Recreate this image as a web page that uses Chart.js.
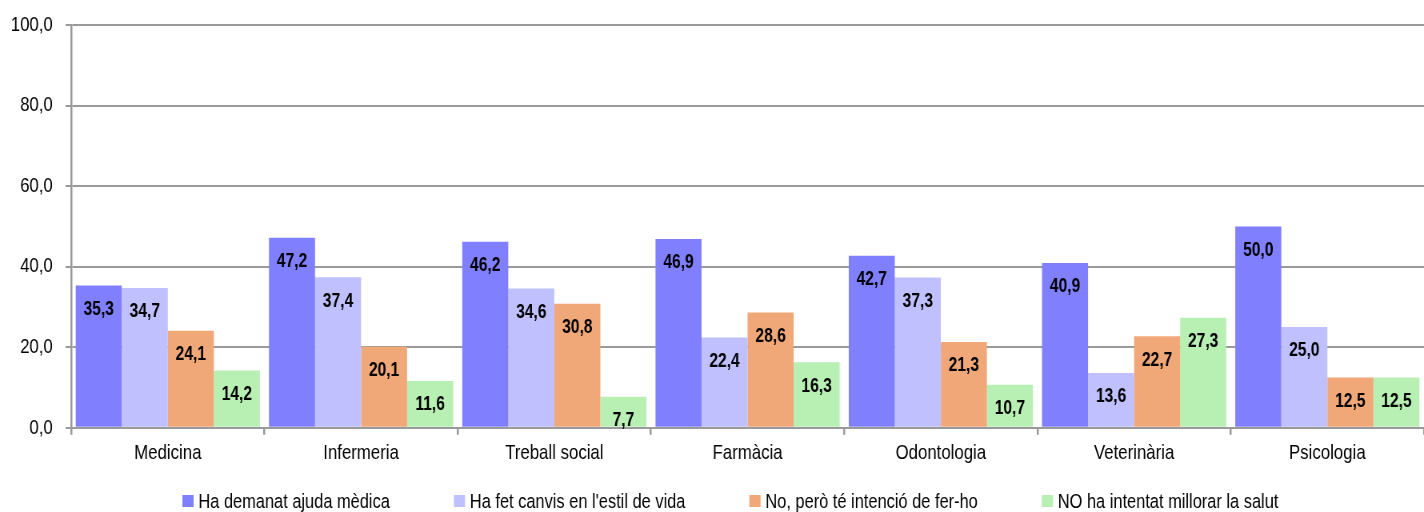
<!DOCTYPE html>
<html>
<head>
<meta charset="utf-8">
<script src="https://cdn.jsdelivr.net/npm/chart.js@4/dist/chart.umd.min.js"></script>
<style>
  html, body { margin: 0; padding: 0; background: #fff; overflow: hidden; }
  #wrap { width: 1424px; height: 512px; overflow: hidden; }
  /* the original chart has narrow text, so draw wider and squeeze horizontally */
  #chart { transform: scaleX(0.8); transform-origin: 0 0; }
</style>
</head>
<body>
<div id="wrap"><canvas id="chart" width="1780" height="512"></canvas></div>
<script>
//Categories and series
const categories = ['Medicina', 'Infermeria', 'Treball social', 'Farmàcia', 'Odontologia', 'Veterinària', 'Psicologia'];
const ajudaMedica = [35.3, 47.2, 46.2, 46.9, 42.7, 40.9, 50.0];
const canvisEstil = [34.7, 37.4, 34.6, 22.4, 37.3, 13.6, 25.0];
const intencio = [24.1, 20.1, 30.8, 28.6, 21.3, 22.7, 12.5];
const noIntentat = [14.2, 11.6, 7.7, 16.3, 10.7, 27.3, 12.5];
const seriesNames = ['Ha demanat ajuda mèdica', "Ha fet canvis en l'estil de vida", 'No, però té intenció de fer-ho', 'NO ha intentat millorar la salut'];

const colors = ['#8080ff', '#c0c0ff', '#f0a878', '#b8f0b4'];
const FONT = '"Liberation Sans", Arial, sans-serif';
const fmt = v => v.toFixed(1).replace('.', ',');

//Plugin to draw the values inside the bars
const valueLabels = {
    id: 'valueLabels',
    afterDatasetsDraw(chart) {
        const ctx = chart.ctx;
        ctx.save();
        ctx.fillStyle = '#000';
        ctx.font = 'bold 19.5px ' + FONT;
        ctx.textAlign = 'center';
        ctx.textBaseline = 'middle';
        chart.data.datasets.forEach((ds, i) => {
            chart.getDatasetMeta(i).data.forEach((bar, j) => {
                ctx.fillText(fmt(ds.data[j]), bar.x, bar.y + 24);
            });
        });
        ctx.restore();
    }
};

//Legend drawn by hand so the item spacing does not push the rows apart
const bottomLegend = {
    id: 'bottomLegend',
    afterDraw(chart) {
        const ctx = chart.ctx;
        const box = 14, gapText = 6, gapItem = 80, yMid = 501;
        ctx.save();
        ctx.font = '20.5px ' + FONT;
        ctx.textBaseline = 'middle';
        const items = chart.data.datasets.map(ds => ({
            text: ds.label,
            color: ds.backgroundColor,
            w: box + gapText + ctx.measureText(ds.label).width
        }));
        const total = items.reduce((a, it) => a + it.w, 0) + gapItem * (items.length - 1);
        let x = (chart.width - total) / 2 + 23;
        items.forEach(it => {
            ctx.fillStyle = it.color;
            ctx.fillRect(x, yMid - 6, box, 12);
            ctx.fillStyle = '#000';
            ctx.fillText(it.text, x + box + gapText, yMid + 1);
            x += it.w + gapItem;
        });
        ctx.restore();
    }
};

const mkSet = (label, data, i) => ({
    label: label,
    data: data,
    backgroundColor: colors[i],
    borderWidth: 0,
    categoryPercentage: 0.953,
    barPercentage: 1
});

const canvas = document.getElementById('chart').getContext('2d');
const myChart = new Chart(canvas, {
    type: 'bar',
    data: {
        labels: categories,
        datasets: [
            mkSet(seriesNames[0], ajudaMedica, 0),
            mkSet(seriesNames[1], canvisEstil, 1),
            mkSet(seriesNames[2], intencio, 2),
            mkSet(seriesNames[3], noIntentat, 3)
        ]
    },
    plugins: [valueLabels, bottomLegend],
    options: {
        responsive: false,
        animation: false,
        devicePixelRatio: 1,
        layout: { padding: { top: 25, right: 0, left: 0, bottom: 40 } },
        scales: {
            x: {
                grid: {
                    display: true,
                    drawOnChartArea: false,
                    color: '#9a9a9a',
                    lineWidth: 2.5,
                    tickLength: 7,
                    offset: true
                },
                border: { color: '#9a9a9a', width: 2 },
                ticks: {
                    color: '#000',
                    padding: 6,
                    font: { size: 21, family: FONT }
                }
            },
            y: {
                min: 0,
                max: 100,
                afterFit: s => { s.width = 89; s.paddingTop = 0; },
                ticks: {
                    stepSize: 20,
                    color: '#000',
                    padding: 16,
                    font: { size: 21, family: FONT },
                    callback: v => fmt(v)
                },
                grid: {
                    color: '#9a9a9a',
                    lineWidth: 2,
                    tickLength: 7
                },
                border: { color: '#9a9a9a', width: 2.5 }
            }
        },
        plugins: {
            legend: { display: false },
            tooltip: { enabled: false }
        }
    }
});
</script>
</body>
</html>
